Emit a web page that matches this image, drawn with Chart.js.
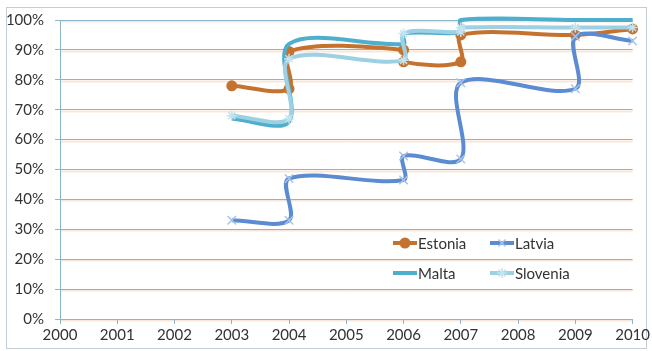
<!DOCTYPE html>
<html>
<head>
<meta charset="utf-8">
<script src="https://cdn.jsdelivr.net/npm/chart.js@4/dist/chart.umd.min.js"></script>
<style>
  html, body { margin: 0; padding: 0; background: #ffffff; }
  #wrap { width: 652px; height: 351px; position: relative; }
  canvas { display: block; }
</style>
</head>
<body>
<div id="wrap"><canvas id="c" width="652" height="351"></canvas></div>
<script>
// Adoption share by year; repeated years mark a step within that year.
const estoniaYears  = [2003, 2004, 2004, 2006, 2006, 2007, 2007, 2009, 2010];
const estoniaPct    = [78, 77, 89.5, 90, 86, 86, 95, 95, 97];

const latviaYears   = [2003, 2004, 2004, 2006, 2006, 2007, 2007, 2009, 2009, 2010];
const latviaPct     = [33, 33, 47, 46.5, 54.5, 53.5, 79, 77, 94.5, 93];

const maltaYears    = [2003, 2004, 2004, 2006, 2006, 2007, 2007, 2009, 2010];
const maltaPct      = [67, 66, 92, 92, 95.5, 96, 100, 100, 100];

const sloveniaYears = [2003, 2004, 2004, 2006, 2006, 2007, 2007, 2009, 2010];
const sloveniaPct   = [68, 67, 87, 86.5, 95.5, 96, 97.5, 97.5, 97.5];

const yearTicks = [2000, 2001, 2002, 2003, 2004, 2005, 2006, 2007, 2008, 2009, 2010];
const pctTicks  = [0, 10, 20, 30, 40, 50, 60, 70, 80, 90, 100];

const seriesNames = ['Estonia', 'Latvia', 'Malta', 'Slovenia'];

const COL = {
  estonia: '#c6722f',
  latvia: '#5b8bd1',
  latviaMark: '#a9c4e6',
  malta: '#4eaecd',
  slovenia: '#9dd0e2',
  sloveniaMark: '#c4e3ee',
  grid: '#8bb6ca',
  halo: 'rgba(240, 200, 175, 0.45)',
  text: '#333333'
};
const FONT = 'Lato, "Open Sans", sans-serif';

function pts(xs, ys) { return xs.map((x, i) => ({ x: x, y: ys[i] })); }

// Soft warm halo under each horizontal gridline, and the outer frame
const framePlugin = {
  id: 'frame',
  beforeDraw(chart) {
    const { ctx, chartArea, scales } = chart;
    ctx.save();
    ctx.fillStyle = '#ffffff';
    ctx.fillRect(0, 0, chart.width, chart.height);
    ctx.strokeStyle = COL.halo;
    ctx.lineWidth = 2;
    pctTicks.forEach(v => {
      const y = Math.round(scales.y.getPixelForValue(v)) + 1.5;
      ctx.beginPath();
      ctx.moveTo(chartArea.left, y);
      ctx.lineTo(chartArea.right, y);
      ctx.stroke();
    });
    ctx.strokeStyle = '#c3cdd3';
    ctx.lineWidth = 1;
    ctx.strokeRect(6.5, 7.5, 640, 341);
    ctx.restore();
  }
};

function legendMark(ctx, kind, cx, cy, color) {
  ctx.fillStyle = color;
  ctx.strokeStyle = color;
  ctx.lineWidth = 1.5;
  const r = 5;
  ctx.beginPath();
  if (kind === 'circle') {
    ctx.arc(cx, cy, r + 0.5, 0, Math.PI * 2);
    ctx.fill();
    return;
  }
  const d = r * Math.SQRT1_2;
  ctx.moveTo(cx - d, cy - d); ctx.lineTo(cx + d, cy + d);
  ctx.moveTo(cx - d, cy + d); ctx.lineTo(cx + d, cy - d);
  if (kind === 'star') {
    ctx.moveTo(cx - r, cy); ctx.lineTo(cx + r, cy);
    ctx.moveTo(cx, cy - r); ctx.lineTo(cx, cy + r);
  }
  ctx.stroke();
}

// Legend drawn inside the plot area, two columns
const innerLegend = {
  id: 'innerLegend',
  afterDraw(chart) {
    const { ctx } = chart;
    const rows = [
      { name: seriesNames[0], x: 393, y: 243, color: COL.estonia, mark: 'circle', markColor: COL.estonia },
      { name: seriesNames[1], x: 490, y: 243, color: COL.latvia, mark: 'crossRot', markColor: COL.latviaMark },
      { name: seriesNames[2], x: 393, y: 273, color: COL.malta, mark: null },
      { name: seriesNames[3], x: 490, y: 273, color: COL.slovenia, mark: 'star', markColor: COL.sloveniaMark }
    ];
    ctx.save();
    rows.forEach(r => {
      ctx.strokeStyle = r.color;
      ctx.lineWidth = 4;
      ctx.lineCap = 'butt';
      ctx.beginPath();
      ctx.moveTo(r.x, r.y);
      ctx.lineTo(r.x + 24, r.y);
      ctx.stroke();
      if (r.mark) legendMark(ctx, r.mark, r.x + 12, r.y, r.markColor);
      ctx.fillStyle = COL.text;
      ctx.font = '15px ' + FONT;
      ctx.textBaseline = 'middle';
      ctx.textAlign = 'left';
      ctx.fillText(r.name, r.x + 25, r.y + 1);
    });
    ctx.restore();
  }
};

const common = { showLine: true, tension: 0.33, borderWidth: 4, clip: 8 };

new Chart(document.getElementById('c'), {
  type: 'scatter',
  data: {
    datasets: [
      Object.assign({}, common, {
        label: seriesNames[0], data: pts(estoniaYears, estoniaPct), order: 4,
        borderColor: COL.estonia, backgroundColor: COL.estonia,
        pointStyle: 'circle', pointRadius: 5.5, pointBorderWidth: 0
      }),
      Object.assign({}, common, {
        label: seriesNames[1], data: pts(latviaYears, latviaPct), order: 3,
        borderColor: COL.latvia, backgroundColor: COL.latviaMark,
        pointStyle: 'crossRot', pointRadius: 6, pointBorderColor: COL.latviaMark, pointBorderWidth: 1.5
      }),
      Object.assign({}, common, {
        label: seriesNames[2], data: pts(maltaYears, maltaPct), order: 2,
        borderColor: COL.malta, backgroundColor: COL.malta,
        pointRadius: 0
      }),
      Object.assign({}, common, {
        label: seriesNames[3], data: pts(sloveniaYears, sloveniaPct), order: 1,
        borderColor: COL.slovenia, backgroundColor: COL.sloveniaMark,
        pointStyle: 'star', pointRadius: 5, pointBorderColor: COL.sloveniaMark, pointBorderWidth: 1.5
      })
    ]
  },
  options: {
    responsive: false,
    animation: false,
    devicePixelRatio: 1,
    layout: { padding: { left: 0, top: 18, right: 19, bottom: 0 } },
    elements: { line: { capBezierPoints: false } },
    plugins: { legend: { display: false }, tooltip: { enabled: false } },
    scales: {
      x: {
        type: 'linear', min: 2000, max: 2010,
        afterBuildTicks(scale) { scale.ticks = yearTicks.map(v => ({ value: v })); },
        afterFit(scale) { scale.height = 32; },
        grid: { drawOnChartArea: false, drawTicks: true, tickLength: 5, color: COL.grid },
        border: { display: true, color: COL.grid, width: 1 },
        ticks: { color: COL.text, font: { family: FONT, size: 15 }, padding: 2, maxRotation: 0,
                 callback: v => String(v) }
      },
      y: {
        type: 'linear', min: 0, max: 100,
        afterBuildTicks(scale) { scale.ticks = pctTicks.map(v => ({ value: v })); },
        afterFit(scale) { scale.width = 60; },
        grid: { color: COL.grid, drawTicks: true, tickLength: 5, lineWidth: 1 },
        border: { display: true, color: COL.grid, width: 1 },
        ticks: { color: COL.text, font: { family: FONT, size: 15 }, padding: 11,
                 callback: v => v + '%' }
      }
    }
  },
  plugins: [framePlugin, innerLegend]
});
</script>
</body>
</html>
